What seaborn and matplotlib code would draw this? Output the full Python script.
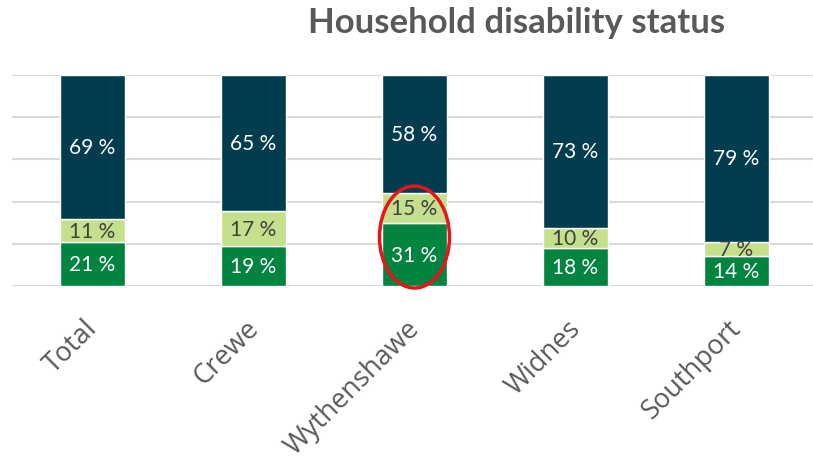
import numpy as np
import pandas as pd
import matplotlib
matplotlib.use("Agg")
import matplotlib.pyplot as plt
import matplotlib.transforms as mtransforms
from matplotlib.patches import Ellipse
import seaborn as sns

sns.set_theme(style="white")

# data
sites = ["Total", "Crewe", "Wythenshawe", "Widnes", "Southport"]
disabled = [21, 19, 31, 18, 14]
partly = [11, 17, 15, 10, 7]
not_disabled = [69, 65, 58, 73, 79]

layers = ["disabled", "partly", "not_disabled"]
colors = {"disabled": "#00843F", "partly": "#C4E08C", "not_disabled": "#013D4F"}
text_colors = {"disabled": "white", "partly": "#404040", "not_disabled": "white"}

df = pd.DataFrame({"site": sites, "disabled": disabled, "partly": partly,
                   "not_disabled": not_disabled})
totals = df[layers].sum(axis=1)
shares = df[layers].div(totals, axis=0)  # 100% stacked

fig = plt.figure(figsize=(8.13, 4.60), dpi=100)
ax = fig.add_axes([12 / 813, 173 / 460, 805 / 813, 211 / 460])

bottom = np.zeros(len(sites))
for layer in layers:
    sns.barplot(x=df["site"], y=shares[layer], bottom=bottom, color=colors[layer],
                width=0.4, ax=ax, saturation=1, zorder=3)
    for i, (b, h, v) in enumerate(zip(bottom, shares[layer], df[layer])):
        ax.text(i, b + h / 2, f"{v} %", ha="center", va="center", fontsize=15,
                color=text_colors[layer], family=["Lato", "DejaVu Sans"], zorder=5)
    bottom = bottom + shares[layer].values

ax.set_ylim(0, 1)
ax.set_xlim(-0.5, len(sites) - 0.5)
ax.set_yticks(np.arange(0, 1.01, 0.2))
ax.set_yticklabels([])
ax.tick_params(axis="y", length=0)
ax.yaxis.grid(True, color="#D9D9D9", linewidth=1.5, zorder=0)
ax.set_axisbelow(True)
for s in ax.spines.values():
    s.set_visible(False)
ax.set_xlabel("")
ax.set_ylabel("")
ax.tick_params(axis="x", length=0, pad=20)
shift = mtransforms.ScaledTranslation(-9 / 100, 0, fig.dpi_scale_trans)
for lbl in ax.get_xticklabels():
    lbl.set_rotation(45)
    lbl.set_ha("right")
    lbl.set_rotation_mode("anchor")
    lbl.set_fontsize(19.5)
    lbl.set_color("#595959")
    lbl.set_family(["Open Sans", "DejaVu Sans"])
    lbl.set_transform(lbl.get_transform() + shift)

# highlight ring around Wythenshawe
ax.add_patch(Ellipse((2, 0.232), 0.435, 0.483, fill=False, edgecolor="#E8141B",
                     linewidth=2.5, zorder=6, clip_on=False))

fig.text(517 / 813, 1 - 23 / 460, "Household disability status", ha="center",
         va="center", fontsize=25, fontweight="bold", color="#595959",
         family=["Lato", "DejaVu Sans"])

fig.savefig("out.png", dpi=100)
